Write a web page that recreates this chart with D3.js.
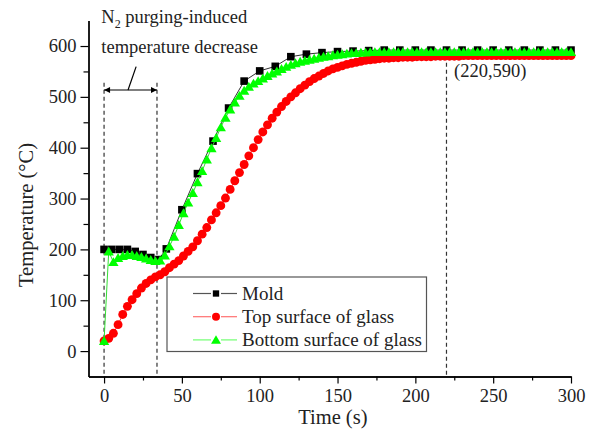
<!DOCTYPE html>
<html>
<head>
<meta charset="utf-8">
<script src="https://cdn.jsdelivr.net/npm/d3@7"></script>
<style>
  body { margin: 0; background: #fff; }
  text { font-family: "Liberation Serif", "Times New Roman", serif; }
</style>
</head>
<body>
<div id="chart"></div>
<script>
// data
var moldTime = [0, 5, 10, 15, 20, 25, 30, 35, 40, 50, 60, 70, 80, 90, 100, 110, 120, 130, 140, 150,
  160, 170, 180, 190, 200, 210, 220, 230, 240, 250, 260, 270, 280, 290, 300];
var moldTemp = [200, 200, 200, 200, 196, 190, 184, 180, 201, 278, 349, 413, 478, 531, 551, 560, 579, 584, 587, 589,
  590, 591, 592, 592, 592, 592, 592, 592, 592, 592, 592, 592, 592, 592, 592];

var glassTime = [0, 3, 6, 9, 12, 15, 18, 21, 24, 27, 30, 33, 36, 39, 42, 45, 48, 51, 54, 57,
  60, 63, 66, 69, 72, 75, 78, 81, 84, 87, 90, 93, 96, 99, 102, 105, 108, 111, 114, 117,
  120, 123, 126, 129, 132, 135, 138, 141, 144, 147, 150, 153, 156, 159, 162, 165, 168, 171, 174, 177,
  180, 183, 186, 189, 192, 195, 198, 201, 204, 207, 210, 213, 216, 219, 222, 225, 228, 231, 234, 237,
  240, 243, 246, 249, 252, 255, 258, 261, 264, 267, 270, 273, 276, 279, 282, 285, 288, 291, 294, 297, 300];

var topTemp = [20, 25, 35, 52, 72, 88, 101, 113, 124, 133,
  140, 146, 150, 156, 164, 171, 178, 187, 196, 205,
  217, 230, 243, 258, 272, 286, 301, 318, 335, 351,
  367, 384, 400, 416, 431, 445, 458, 470, 481, 491,
  500, 508, 516, 523, 530, 536, 541, 546, 551, 555,
  558, 561, 564, 566, 568, 570, 572, 573, 574, 575,
  576, 576, 577, 577, 578, 578, 578, 579, 579, 579,
  579, 580, 580, 580, 580, 580, 580, 581, 581, 581,
  581, 581, 581, 581, 581, 581, 581, 581, 581, 581,
  581, 581, 581, 581, 581, 581, 581, 581, 581, 581, 581];

var bottomTemp = [20, 196, 175, 183, 187, 189, 189, 187, 185, 182,
  179, 177, 178, 188, 206, 225, 248, 271, 292, 311,
  332, 354, 377, 399, 419, 440, 459, 475, 489, 502,
  512, 520, 526, 531, 536, 541, 546, 550, 555, 559,
  563, 566, 569, 571, 573, 575, 577, 579, 580, 582,
  583, 584, 585, 586, 586, 587, 587, 588, 588, 588,
  588, 588, 588, 588, 588, 588, 588, 588, 588, 588,
  588, 588, 588, 588, 588, 588, 588, 588, 588, 588,
  588, 588, 588, 588, 588, 588, 588, 588, 588, 588,
  588, 588, 588, 588, 588, 588, 588, 588, 588, 588, 588];

var xTicks = [0, 50, 100, 150, 200, 250, 300];
var xMinor = [25, 75, 125, 175, 225, 275];
var yTicks = [0, 100, 200, 300, 400, 500, 600];
var yMinor = [50, 150, 250, 350, 450, 550];
var seriesNames = ["Mold", "Top surface of glass", "Bottom surface of glass"];
var purgeStart = 0, purgeEnd = 34;
var steadyPoint = [220, 590];

var W = 593, H = 434;
var margin = {top: 20.6, right: 22, bottom: 57.5, left: 88.5},
    width = W - margin.left - margin.right,
    height = H - margin.top - margin.bottom;

var svg = d3.select("#chart").append("svg")
    .attr("width", W).attr("height", H)
  .append("g")
    .attr("transform", "translate(" + margin.left + "," + margin.top + ")");

var x = d3.scaleLinear().domain([-10, 300]).range([0, width]);
var y = d3.scaleLinear().domain([-50, 650]).range([height, 0]);

// arrow heads
var defs = svg.append("defs");
["start", "end"].forEach(function(k) {
  defs.append("marker")
      .attr("id", "arr-" + k)
      .attr("viewBox", "0 0 10 10")
      .attr("refX", k == "end" ? 10 : 0).attr("refY", 5)
      .attr("markerWidth", 7).attr("markerHeight", 6)
      .attr("markerUnits", "userSpaceOnUse")
      .attr("orient", "auto")
    .append("path")
      .attr("d", k == "end" ? "M0,0L10,5L0,10z" : "M10,0L0,5L10,10z")
      .attr("fill", "#000");
});

// dashed guide lines
var guides = [[purgeStart, 528], [purgeEnd, 528], [steadyPoint[0], 581]];
svg.selectAll(".guide").data(guides).enter().append("line")
    .attr("x1", function(d) { return x(d[0]); })
    .attr("x2", function(d) { return x(d[0]); })
    .attr("y1", function(d) { return y(d[1]); })
    .attr("y2", height)
    .attr("stroke", "#333").attr("stroke-width", 1.2)
    .attr("stroke-dasharray", "4,3");

// axes
function styleAxis(g) {
  g.selectAll("path.domain").attr("stroke", "#000").attr("stroke-width", 1.3);
  g.selectAll(".tick line").attr("stroke", "#000").attr("stroke-width", 1.2);
  g.selectAll("text").style("font-family", "Liberation Serif").style("font-size", "18.5px").attr("fill", "#222");
}

svg.append("g")
    .attr("transform", "translate(0," + height + ")")
    .call(d3.axisBottom(x).tickValues(xTicks).tickSize(7).tickSizeOuter(0).tickPadding(5))
    .call(styleAxis);
svg.append("g")
    .attr("transform", "translate(0," + height + ")")
    .call(d3.axisBottom(x).tickValues(xMinor).tickSize(4).tickSizeOuter(0).tickFormat(""))
    .call(styleAxis);
svg.append("g")
    .call(d3.axisLeft(y).tickValues(yTicks).tickSize(8).tickSizeOuter(0).tickPadding(4))
    .call(styleAxis);
svg.append("g")
    .call(d3.axisLeft(y).tickValues(yMinor).tickSize(5).tickSizeOuter(0).tickFormat(""))
    .call(styleAxis);

// axis titles
svg.append("text")
    .attr("x", x(147)).attr("y", height + 47.5)
    .attr("text-anchor", "middle")
    .style("font-size", "20.5px").attr("fill", "#222")
    .text("Time (s)");
svg.append("text")
    .attr("transform", "translate(" + (-55.5) + "," + (215 - margin.top) + ") rotate(-90)")
    .attr("text-anchor", "middle")
    .style("font-size", "20.5px").attr("fill", "#222")
    .text("Temperature (\u00B0C)");

// series
var mold = moldTime.map(function(t, i) { return [t, moldTemp[i]]; });
var top_ = glassTime.map(function(t, i) { return [t, topTemp[i]]; });
var bottom = glassTime.map(function(t, i) { return [t, bottomTemp[i]]; });

var line = d3.line()
    .x(function(d) { return x(d[0]); })
    .y(function(d) { return y(d[1]); });

var sym = {
  square: d3.symbol().type(d3.symbolSquare).size(58)(),
  circle: d3.symbol().type(d3.symbolCircle).size(62)(),
  triangle: d3.symbol().type(d3.symbolTriangle).size(46)()
};
var legSym = {
  square: d3.symbol().type(d3.symbolSquare).size(40)(),
  circle: d3.symbol().type(d3.symbolCircle).size(50)(),
  triangle: d3.symbol().type(d3.symbolTriangle).size(42)()
};

var series = [
  {data: mold, color: "#000", line: "#333", legLine: "#555", shape: "square"},
  {data: top_, color: "#ff0000", line: "#ff3333", legLine: "#ff7070", shape: "circle"},
  {data: bottom, color: "#00ff00", line: "#33dd33", legLine: "#70ff70", shape: "triangle"}
];

series.forEach(function(s) {
  svg.append("path")
      .datum(s.data)
      .attr("fill", "none")
      .attr("stroke", s.line)
      .attr("stroke-width", 1)
      .attr("d", line);
  svg.selectAll(".m-" + s.shape).data(s.data).enter().append("path")
      .attr("class", "m-" + s.shape)
      .attr("transform", function(d) {
        return "translate(" + x(d[0]) + "," + (y(d[1]) + (s.shape == "triangle" ? 1 : 0)) + ")";
      })
      .attr("d", sym[s.shape])
      .attr("fill", s.color);
});

// purge annotation
svg.append("line")
    .attr("x1", x(purgeStart)).attr("x2", x(purgeEnd))
    .attr("y1", 69.4).attr("y2", 69.4)
    .attr("stroke", "#000").attr("stroke-width", 1.2)
    .attr("marker-start", "url(#arr-start)")
    .attr("marker-end", "url(#arr-end)");
svg.append("line")
    .attr("x1", x(15.4)).attr("x2", x(20.6))
    .attr("y1", 69.4).attr("y2", 46)
    .attr("stroke", "#000").attr("stroke-width", 1.2);

var note = svg.append("text")
    .attr("x", 12.8).attr("y", 2.7)
    .style("font-size", "18.5px").attr("fill", "#222");
note.append("tspan").text("N");
note.append("tspan").attr("dy", 5).style("font-size", "12px").text("2");
note.append("tspan").attr("dy", -5).text(" purging-induced");
svg.append("text")
    .attr("x", 12.8).attr("y", 32.7)
    .style("font-size", "18.5px").attr("fill", "#222")
    .text("temperature decrease");

svg.append("text")
    .attr("x", x(steadyPoint[0]) + 7.5).attr("y", 56.5)
    .style("font-size", "18.5px").attr("fill", "#222")
    .text("(" + steadyPoint[0] + "," + steadyPoint[1] + ")");

// legend
var lg = svg.append("g").attr("transform", "translate(" + (167 - margin.left) + "," + (277 - margin.top) + ")");
lg.append("rect")
    .attr("width", 259.5).attr("height", 74.5)
    .attr("fill", "#fff").attr("stroke", "#555").attr("stroke-width", 1.2);
series.forEach(function(s, i) {
  var gy = 16.5 + i * 23.2;
  [[26, 44], [54, 70]].forEach(function(seg) {
    lg.append("line")
        .attr("x1", seg[0]).attr("x2", seg[1])
        .attr("y1", gy).attr("y2", gy)
        .attr("stroke", s.legLine).attr("stroke-width", 1.2);
  });
  lg.append("path")
      .attr("transform", "translate(49," + (gy + (s.shape == "triangle" ? 1 : 0)) + ")")
      .attr("d", legSym[s.shape])
      .attr("fill", s.color);
  lg.append("text")
      .attr("x", 75).attr("y", gy)
      .attr("dy", "0.34em")
      .style("font-size", "19px").attr("fill", "#222")
      .text(seriesNames[i]);
});
</script>
</body>
</html>
